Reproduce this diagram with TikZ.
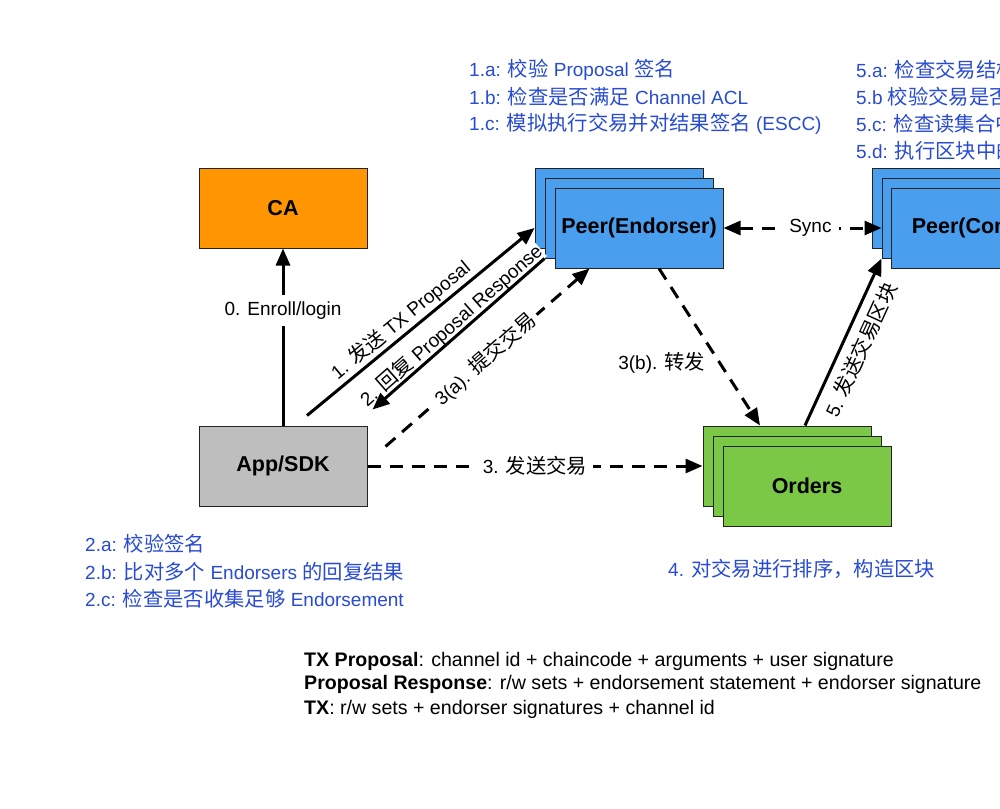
\documentclass[tikz,border=0pt]{standalone}
\usepackage{fontspec}
\setmainfont{Liberation Sans}
\newfontfamily\cjk[Scale=1.07]{Noto Sans CJK SC}
\usetikzlibrary{arrows.meta,calc}
\definecolor{caorange}{RGB}{255,149,0}
\definecolor{peerblue}{RGB}{74,158,238}
\definecolor{ordgreen}{RGB}{122,200,70}
\definecolor{appgray}{RGB}{190,190,190}
\definecolor{boxline}{RGB}{35,35,35}
\definecolor{notefg}{RGB}{40,75,210}
\begin{document}
\begin{tikzpicture}[x=1pt,y=-1pt,
  box/.style={draw=boxline, line width=1pt, minimum width=168pt, minimum height=80pt, inner sep=0pt,
    font=\fontsize{21.5}{24}\selectfont\bfseries},
  widebox/.style={box, minimum width=210pt},
  note/.style={anchor=west, inner sep=0pt, text=notefg, font=\fontsize{19}{22}\selectfont},
  legend/.style={anchor=west, inner sep=0pt, font=\fontsize{19.6}{22}\selectfont},
  lbl/.style={font=\fontsize{19}{22}\selectfont, inner sep=1pt},
  tip/.tip={Triangle[length=17pt,width=14pt]},
  conn/.style={line width=3pt, -tip},
  dashconn/.style={conn, dash pattern=on 13pt off 9pt},
  bothdash/.style={line width=3pt, tip-tip, dash pattern=on 13pt off 9pt},
]
\clip (0,0) rectangle (1000,808);
\fill[white] (0,0) rectangle (1000,808);

% boxes
\node[box, fill=caorange] (ca) at (283,208) {CA};
\node[box, fill=appgray] (app) at (283,466) {App/SDK};

\node[box, fill=peerblue] (pe1) at (619,208) {};
\node[box, fill=peerblue] (pe2) at (629,218) {};
\node[box, fill=peerblue] (pe3) at (639,228) {Peer(Endorser)};

\node[widebox, fill=peerblue] (cm1) at (977,208) {};
\node[widebox, fill=peerblue] (cm2) at (987,218) {};
\node[widebox, fill=peerblue] (cm3) at (996,228) {Peer(Committer)};

\node[box, fill=ordgreen] (or1) at (787,466) {};
\node[box, fill=ordgreen] (or2) at (797,476) {};
\node[box, fill=ordgreen] (or3) at (807,486) {Orders};

% notes
\node[note] (n1a) at (469,70) {1.a: {\cjk 校验} Proposal {\cjk 签名}};
\node[note] (n1b) at (469,97) {1.b: {\cjk 检查是否满足} Channel ACL};
\node[note] (n1c) at (469,124) {1.c: {\cjk 模拟执行交易并对结果签名} (ESCC)};

\node[note] (n5a) at (856,70) {5.a: {\cjk 检查交易结构}};
\node[note] (n5b) at (856,97) {5.b {\cjk 校验交易是否}};
\node[note] (n5c) at (856,124) {5.c: {\cjk 检查读集合中}};
\node[note] (n5d) at (856,151) {5.d: {\cjk 执行区块中的}};

\node[note] (n2a) at (85,544) {2.a: {\cjk 校验签名}};
\node[note] (n2b) at (85,572) {2.b: {\cjk 比对多个} Endorsers {\cjk 的回复结果}};
\node[note] (n2c) at (85,599) {2.c: {\cjk 检查是否收集足够} Endorsement};

\node[note] (n4) at (668,569) {4. {\cjk 对交易进行排序，构造区块}};

% legend
\node[legend] (lg1) at (304,661) {\textbf{TX Proposal}: channel id + chaincode + arguments + user signature};
\node[legend] (lg2) at (304,684) {\textbf{Proposal Response}: r/w sets + endorsement statement + endorser signature};
\node[legend] (lg3) at (304,709) {\textbf{TX}: r/w sets + endorser signatures + channel id};

% connectors
\draw[conn] (app.north) -- (ca.south)
  node[lbl, pos=0.65, fill=white, inner ysep=7pt] {0. Enroll/login};

\draw[conn] ([xshift=24pt,yshift=10pt]app.north) -- ([yshift=-20pt]pe1.west)
  node[lbl, pos=0.45, sloped, above, inner sep=2pt] {1. {\cjk 发送} TX Proposal};

\path (pe2.south west) -- ([xshift=5pt,yshift=16pt]app.north east)
  node[lbl, pos=0.5, sloped, above, fill=white, inner sep=0.5pt] {2. {\cjk 回复} Proposal Response};
\draw[conn] (pe2.south west) -- ([xshift=5pt,yshift=16pt]app.north east);

\draw[dashconn] ([xshift=18pt,yshift=-21pt]app.north east) -- ([xshift=35pt]pe3.south west)
  node[lbl, pos=0.49, sloped, fill=white, inner xsep=4pt] {3(a). {\cjk 提交交易}};

\draw[dashconn] (app.east) -- (or1.west)
  node[lbl, pos=0.5, fill=white, inner xsep=6pt] {3. {\cjk 发送交易}};

\draw[dashconn] ([xshift=20pt]pe3.south) -- ([xshift=-27pt]or1.north)
  node[lbl, pos=0.6, anchor=east, xshift=-12pt] {3(b). {\cjk 转发}};

\draw[conn] ([xshift=18pt]or1.north) -- (cm2.south west)
  node[lbl, pos=0.5, sloped, below, inner sep=8pt] {5. {\cjk 发送交易区块}};

\draw[bothdash] (pe3.east) -- ([yshift=-10pt]cm2.west)
  node[lbl, pos=0.55, fill=white, inner xsep=7pt] {Sync};
\end{tikzpicture}
\end{document}
